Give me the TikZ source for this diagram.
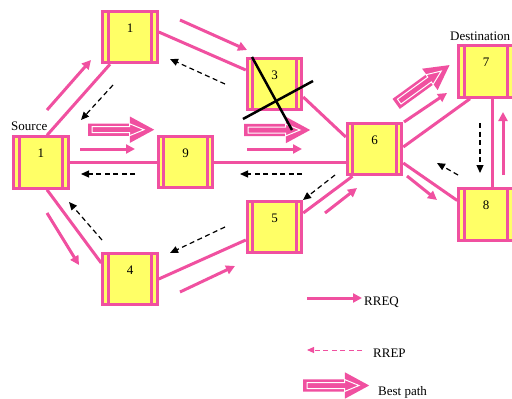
\documentclass[tikz,border=0pt]{standalone}
\usepackage{fontspec}
\setmainfont{Liberation Serif}
\usetikzlibrary{arrows.meta,shapes.arrows}
\definecolor{rpink}{RGB}{240,80,160}
\definecolor{ryellow}{RGB}{255,255,102}

\begin{document}
\begin{tikzpicture}[x=1pt,y=-1pt,
  mobile/.style={rectangle, draw=rpink, fill=ryellow, line width=3pt,
    minimum width=54.5pt, minimum height=51.5pt, inner sep=0pt,
    font=\fontsize{13}{15}\selectfont, text height=9pt, text depth=19pt,
    path picture={\draw[rpink, line width=3pt]
      ([xshift=5.5pt]path picture bounding box.north west) -- ([xshift=5.5pt]path picture bounding box.south west)
      ([xshift=-5.5pt]path picture bounding box.north east) -- ([xshift=-5.5pt]path picture bounding box.south east);}},
  link/.style={draw=rpink, line width=3pt},
  rreq/.style={draw=rpink, line width=3pt, -{Triangle[length=9pt,width=9pt]}},
  rrep/.style={draw=black, line width=1.2pt, dash pattern=on 5pt off 3.5pt, -{Triangle[length=8pt,width=7pt]}},
  bestout/.style={single arrow, fill=rpink, draw=none, minimum height=66pt, anchor=tail,
    inner xsep=0pt, inner ysep=6pt, single arrow head extend=7pt, single arrow tip angle=57},
  bestin/.style={single arrow, draw=white, fill=none, line width=1pt, minimum height=52pt, anchor=tail,
    inner xsep=0pt, inner ysep=2.5pt, single arrow head extend=3pt, single arrow tip angle=45},
  lbl/.style={font=\fontsize{13}{15}\selectfont, inner sep=0pt},
  cross/.style={draw=black, line width=2.5pt}
]
\useasboundingbox (0,0) rectangle (512,399);
\clip (0,0) rectangle (512,399);

% mobile nodes
\node[mobile] (S)  at (41,162.5) {1};
\node[mobile] (A)  at (130,37)   {1};
\node[mobile] (N9) at (185.5,162) {9};
\node[mobile] (N3) at (274.5,84) {3};
\node[mobile] (N6) at (374.5,149) {6};
\node[mobile] (N7) at (486,71.5) {7};
\node[mobile] (N8) at (486,214.5) {8};
\node[mobile] (N5) at (274.5,227) {5};
\node[mobile] (N4) at (130,279) {4};

% links between neighbours
\draw[link] ([xshift=6pt]S.north) -- ([xshift=-20pt]A.south);
\draw[link] ([xshift=6pt]S.south) -- ([yshift=16pt]N4.west);
\draw[link] (S.east) -- (S.east -| N9.west);
\draw[link] (N9.east) -- (N9.east -| N6.west);
\draw[link] ([yshift=5pt]A.east) -- ([yshift=14pt]N3.west);
\draw[link] ([yshift=-13pt]N3.east) -- ([yshift=12pt]N6.west);
\draw[link] (N4.east) -- ([yshift=-13pt]N5.west);
\draw[link] ([yshift=14pt]N5.east) -- ([xshift=-22pt]N6.south);
\draw[link] ([yshift=2pt]N6.east) -- ([xshift=-16pt]N7.south);
\draw[link] ([yshift=-14pt]N6.east) -- ([yshift=14pt]N8.west);
\draw[link] ([xshift=6pt]N7.south) -- ([xshift=6pt]N8.north);

% labels
\node[lbl, anchor=base west] (src) at (11,130) {Source};
\node[lbl, anchor=base west] (dst) at (450,40) {Destination};

% route requests
\draw[rreq] (47,110) -- (91,60);
\draw[rreq] (180,20) -- (247,50);
\draw[rreq] (80,149) -- (135,149);
\draw[rreq] (247,149) -- (302,149);
\draw[rreq] (47,213) -- (79,265);
\draw[rreq] (180,292) -- (235,266);
\draw[rreq] (325,213) -- (357,188);
\draw[rreq] (404,122) -- (447,93);
\draw[rreq] (407,176) -- (437,200);
\draw[rreq] (503,175) -- (503,112);

% route replies
\draw[rrep] (225,84) -- (170,59);
\draw[rrep] (113,85) -- (81,120);
\draw[rrep] (135,174) -- (81,174);
\draw[rrep] (302,174) -- (240,174);
\draw[rrep] (335,175) -- (303,200);
\draw[rrep] (225,227) -- (170,253);
\draw[rrep] (102,240) -- (69,202);
\draw[rrep] (480,123) -- (480,173);
\draw[rrep] (458,175) -- (437,163);

% best path
\node[bestout] (bp1) at (88,129.7) {};
\node[bestin] at (91.5,129.7) {};
\node[bestout] (bp2) at (244,130) {};
\node[bestin] at (247.5,130) {};
\node[bestout, rotate=36] (bp3) at (396,104) {};
\node[bestin, rotate=36] at (398.8,101.9) {};

% broken node
\draw[cross] (252,57) -- (292,130);
\draw[cross] (243,119) -- (313,81);

% legend
\draw[rreq] (307,298) -- (362,298);
\node[lbl, anchor=base west] (lq) at (364,305) {RREQ};
\draw[draw=rpink, line width=1pt, dash pattern=on 5pt off 3.5pt, -{Triangle[length=7pt,width=6pt]}] (362,350) -- (307,350);
\node[lbl, anchor=base west] (lp) at (373,357) {RREP};
\node[bestout] (bpl) at (303,385.5) {};
\node[bestin] at (306.5,385.5) {};
\node[lbl, anchor=base west] (lb) at (378,395) {Best path};
\end{tikzpicture}
\end{document}
